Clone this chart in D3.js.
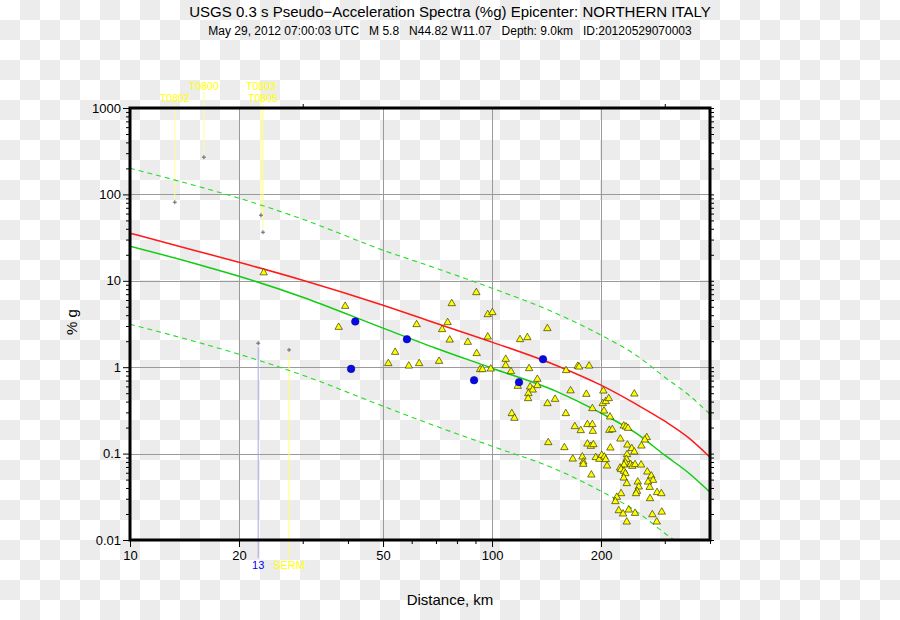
<!DOCTYPE html>
<html><head><meta charset="utf-8">
<script src="https://cdn.jsdelivr.net/npm/d3@7"></script>
<style>
html,body{margin:0;padding:0;background:#fff;}
svg{display:block;}
text{font-family:"Liberation Sans",Arial,Helvetica,sans-serif;}
</style>
</head><body>
<svg id="chart" width="900" height="620"></svg>
<script>
// ---------------- DATA ----------------
const titleText = "USGS 0.3 s Pseudo\u2212Acceleration Spectra (%g) Epicenter: NORTHERN ITALY";
const subtitleText = "May 29, 2012 07:00:03 UTC   M 5.8   N44.82 W11.07   Depth: 9.0km   ID:20120529070003";
const xLabel = "Distance, km";
const yLabel = "% g";

const xTickLabels = [10, 20, 50, 100, 200];
const xMinorTicks = [30, 40, 60, 70, 80, 90, 300, 400];
const xGridValues = [20, 50, 100, 200];
const yTickLabels = ["0.01", "0.1", "1", "10", "100", "1000"];
const yGridValues = [0.1, 1, 10, 100];
const topTicks = [30, 300];

const curveDist   = [10, 15, 20, 30, 50, 70, 100, 150, 200, 250, 300, 350, 400];
const redMedian   = [35.6, 22.6, 16.4, 10.16, 5.22, 3.23, 1.95, 1.055, 0.619, 0.373, 0.237, 0.151, 0.0908];
const greenMedian = [25.15, 15.99, 11.30, 6.46, 2.83, 1.66, 0.974, 0.528, 0.2935, 0.1722, 0.0958, 0.0593, 0.0357];
const greenUpper  = [201, 127.8, 90.4, 51.6, 22.6, 13.99, 8.21, 4.22, 2.35, 1.377, 0.766, 0.474, 0.286];
const greenLower  = [3.146, 2.0, 1.414, 0.808, 0.3536, 0.2076, 0.1218, 0.066, 0.0367, 0.02154, 0.01199, 0.00742, 0.0045];

const triDist = [23.4,39.3,37.7,90.5,77.4,97.3,100.2,61.9,75.4,72.8,
  142.2,76.4,85.7,97.3,119.5,125.2,54.0,90.7,51.7,58.9,
  62.9,71.4,109.1,109.1,92.7,94.1,99.2,112.8,126.6,160.1,
  172.5,173.9,185.4,133.4,117.8,127.4,133.4,129.5,126.0,125.8,
  164.8,149.3,142.3,159.9,113.4,115.3,182.2,203.0,247.2,202.2,
  206.1,210.1,189.3,203.9,211.8,169.3,183.4,189.3,175.8,189.8,
  210.9,214.9,231.1,234.5,237.5,226.2,267.5,264.2,143.0,158.4,
  183.4,187.4,190.5,212.3,236.5,243.2,247.2,258.6,167.1,177.6,
  178.7,178.7,193.4,197.9,200.9,204.3,206.1,207.8,236.0,235.0,
  233.5,231.5,241.6,244.1,248.3,258.1,225.8,227.2,231.5,233.5,
  188.1,231.1,235.6,252.7,268.5,275.4,278.5,269.7,254.3,251.5,
  249.9,272.6,285.6,293.6,227.2,221.1,219.1,273.2,223.9,238.6,
  230.1,248.3,277.2,294.3,235.6,285.1];
const triValue = [12.41,5.08,2.904,7.32,5.46,4.074,4.297,3.12,3.291,2.732,
  2.805,2.07,1.947,2.242,2.092,2.207,1.491,1.441,1.104,1.035,
  1.104,1.173,1.238,1.046,0.9406,0.9406,0.9557,0.8919,0.966,0.9158,
  1.027,1.008,1.035,0.7264,0.6026,0.5915,0.6141,0.5461,0.4961,0.4342,
  0.5346,0.4262,0.3801,0.2911,0.2911,0.2569,0.487,0.5318,0.4909,0.3801,
  0.4009,0.4342,0.3327,0.312,0.266,0.2059,0.2172,0.2172,0.185,0.1816,
  0.1865,0.19,0.2092,0.2037,0.1968,0.148,0.1536,0.1441,0.1344,0.1176,
  0.1295,0.1218,0.1274,0.1164,0.1261,0.1146,0.1046,0.1228,0.0868,0.0916,
  0.0802,0.0754,0.0901,0.0861,0.0958,0.0916,0.0855,0.0721,0.0976,0.0861,
  0.0781,0.074,0.0748,0.0715,0.0748,0.074,0.0683,0.0655,0.0626,0.0588,
  0.0567,0.0523,0.0451,0.047,0.0614,0.0552,0.0492,0.047,0.0412,0.0367,
  0.0345,0.0408,0.0355,0.0345,0.0345,0.0313,0.0279,0.0302,0.0219,0.0223,
  0.02005,0.0204,0.0197,0.0211,0.0162,0.0162];

const circleDist  = [41.9, 40.8, 58.2, 89.2, 118.7, 138.3];
const circleValue = [3.38, 0.956, 2.109, 0.707, 0.6705, 1.238];

const stationNames = ["T0802", "T0800", "T0803", "T0805", "13", "SERM"];
const stationDist  = [13.3, 16.0, 23.0, 23.3, 22.6, 27.5];
const stationValue = [81.2, 269.5, 57.4, 36.5, 1.896, 1.586];

// ---------------- LAYOUT / STYLE ----------------
const L = 130, R = 710, T = 108, B = 540;
const svg = d3.select("#chart");
const x = d3.scaleLog().domain([10, 400]).range([L, R]);
const y = d3.scaleLog().domain([0.01, 1000]).range([B, T]);

// checkerboard background (transparent-image look)
const defs = svg.append("defs");
const pat = defs.append("pattern").attr("id", "checker").attr("patternUnits", "userSpaceOnUse")
  .attr("width", 40).attr("height", 40);
pat.append("rect").attr("width", 40).attr("height", 40).attr("fill", "#ffffff");
pat.append("rect").attr("x", 20).attr("y", 0).attr("width", 20).attr("height", 20).attr("fill", "#ececec");
pat.append("rect").attr("x", 0).attr("y", 20).attr("width", 20).attr("height", 20).attr("fill", "#ececec");
svg.append("rect").attr("width", 900).attr("height", 620).attr("fill", "url(#checker)");

defs.append("clipPath").attr("id", "plotclip").append("rect")
  .attr("x", L).attr("y", T).attr("width", R - L).attr("height", B - T);

// grid
const grid = svg.append("g").attr("stroke", "#9a9a9a").attr("stroke-width", 1);
grid.selectAll("line.vx").data(xGridValues).join("line")
  .attr("x1", d => Math.round(x(d)) + 0.5).attr("x2", d => Math.round(x(d)) + 0.5)
  .attr("y1", T).attr("y2", B);
grid.selectAll("line.hy").data(yGridValues).join("line")
  .attr("y1", d => Math.round(y(d)) + 0.5).attr("y2", d => Math.round(y(d)) + 0.5)
  .attr("x1", L).attr("x2", R);

// station leader lines
const topRow = {"T0802": 101.5, "T0800": 89.5, "T0803": 89.5, "T0805": 101.5};
const stationColor = {"T0802": "#ffff00", "T0800": "#ffff00", "T0803": "#ffff00", "T0805": "#ffff00", "13": "#0000ff", "SERM": "#ffff00"};
const leaderColor = {"T0802": "#ffff99", "T0800": "#ffff99", "T0803": "#ffff88", "T0805": "#ffff88", "13": "#a8a8e8", "SERM": "#ffff77"};
const stations = stationNames.map((n, i) => ({name: n, d: stationDist[i], v: stationValue[i]}));
const leaders = svg.append("g");
stations.forEach(s => {
  const px = x(s.d), py = y(s.v);
  let y1, y2;
  if (topRow[s.name] !== undefined) { y1 = topRow[s.name] + 2; y2 = py - 3; }
  else { y1 = py + 4; y2 = 558; }
  leaders.append("line").attr("x1", px).attr("x2", px).attr("y1", y1).attr("y2", y2)
    .attr("stroke", leaderColor[s.name]).attr("stroke-width", 1);
});

// curves
const curves = svg.append("g").attr("clip-path", "url(#plotclip)");
const lineGen = vals => d3.line().x((d, i) => x(curveDist[i])).y(d => y(d)).curve(d3.curveMonotoneX)(vals);
curves.append("path").attr("d", lineGen(greenUpper)).attr("fill", "none").attr("stroke", "#22dd22").attr("stroke-width", 1.1).attr("stroke-dasharray", "5,4");
curves.append("path").attr("d", lineGen(greenLower)).attr("fill", "none").attr("stroke", "#22dd22").attr("stroke-width", 1.1).attr("stroke-dasharray", "5,4");
curves.append("path").attr("d", lineGen(redMedian)).attr("fill", "none").attr("stroke", "#ff1a1a").attr("stroke-width", 1.5);
curves.append("path").attr("d", lineGen(greenMedian)).attr("fill", "none").attr("stroke", "#11cc11").attr("stroke-width", 1.5);

// station crosses
const crosses = svg.append("g").attr("stroke", "#666").attr("stroke-width", 1);
stations.forEach(s => {
  const px = x(s.d), py = y(s.v);
  crosses.append("line").attr("x1", px - 2).attr("x2", px + 2).attr("y1", py).attr("y2", py);
  crosses.append("line").attr("x1", px).attr("x2", px).attr("y1", py - 2).attr("y2", py + 2);
});

// triangles
const tri = d3.symbol().type(d3.symbolTriangle).size(24);
svg.append("g").selectAll("path").data(triDist.map((d, i) => [d, triValue[i]])).join("path")
  .attr("d", tri).attr("transform", d => `translate(${x(d[0])},${y(d[1])})`)
  .attr("fill", "#ffff00").attr("stroke", "#3a3a00").attr("stroke-width", 0.7);

// circles
svg.append("g").selectAll("circle").data(circleDist.map((d, i) => [d, circleValue[i]])).join("circle")
  .attr("cx", d => x(d[0])).attr("cy", d => y(d[1])).attr("r", 3.8)
  .attr("fill", "#0808e0").attr("stroke", "#0000a0").attr("stroke-width", 0.5);

// axes ticks
const fontTick = 13;
const bottomAxis = d3.axisBottom(x).tickValues(xTickLabels).tickFormat(d3.format("d")).tickSize(7).tickSizeOuter(0).tickPadding(4);
const gB = svg.append("g").attr("transform", `translate(0,${B})`).call(bottomAxis);
gB.select(".domain").remove();
gB.selectAll("text").attr("font-size", fontTick).attr("fill", "#000").attr("font-family", '"Liberation Sans",Arial,sans-serif');
gB.selectAll("line").attr("stroke", "#000");
const gBm = svg.append("g").attr("transform", `translate(0,${B})`).call(d3.axisBottom(x).tickValues(xMinorTicks).tickFormat("").tickSize(4).tickSizeOuter(0));
gBm.select(".domain").remove();

const gTop = svg.append("g").attr("transform", `translate(0,${T})`).call(d3.axisTop(x).tickValues(topTicks).tickFormat("").tickSize(4).tickSizeOuter(0));
gTop.select(".domain").remove();

const yMajor = yTickLabels.map(Number);
const yMinor = y.ticks().filter(v => !yMajor.some(m => Math.abs(m - v) / m < 1e-6));
const leftAxis = d3.axisLeft(y).tickValues(yMajor).tickFormat((d, i) => yTickLabels[i]).tickSize(7).tickSizeOuter(0).tickPadding(2);
const gL = svg.append("g").attr("transform", `translate(${L},0)`).call(leftAxis);
gL.select(".domain").remove();
gL.selectAll("text").attr("font-size", fontTick).attr("fill", "#000").attr("font-family", '"Liberation Sans",Arial,sans-serif');
const gLm = svg.append("g").attr("transform", `translate(${L},0)`).call(d3.axisLeft(y).tickValues(yMinor).tickFormat("").tickSize(4).tickSizeOuter(0));
gLm.select(".domain").remove();
const gR = svg.append("g").attr("transform", `translate(${R},0)`).call(d3.axisRight(y).tickValues(yMinor.concat(yMajor)).tickFormat("").tickSize(4).tickSizeOuter(0));
gR.select(".domain").remove();

// frame
svg.append("rect").attr("x", L).attr("y", T).attr("width", R - L).attr("height", B - T)
  .attr("fill", "none").attr("stroke", "#000").attr("stroke-width", 3);

// station labels
stations.forEach(s => {
  const px = x(s.d);
  const isTop = topRow[s.name] !== undefined;
  const yy = isTop ? topRow[s.name] : 569;
  svg.append("text").attr("x", px).attr("y", yy).attr("text-anchor", "middle")
    .attr("font-size", isTop ? 10.5 : 11).attr("fill", stationColor[s.name]).text(s.name);
});

// titles
svg.append("text").attr("x", 450).attr("y", 17).attr("text-anchor", "middle").attr("font-size", 15).attr("fill", "#000").text(titleText);
svg.append("text").attr("x", 450).attr("y", 35).attr("text-anchor", "middle").attr("font-size", 12).attr("fill", "#000")
  .style("white-space", "pre").attr("xml:space", "preserve").text(subtitleText);
svg.append("text").attr("x", 450).attr("y", 605).attr("text-anchor", "middle").attr("font-size", 15).attr("fill", "#000").text(xLabel);
svg.append("text").attr("transform", "translate(77,322) rotate(-90)").attr("text-anchor", "middle").attr("font-size", 15).attr("fill", "#000").text(yLabel);
</script>
</body></html>
